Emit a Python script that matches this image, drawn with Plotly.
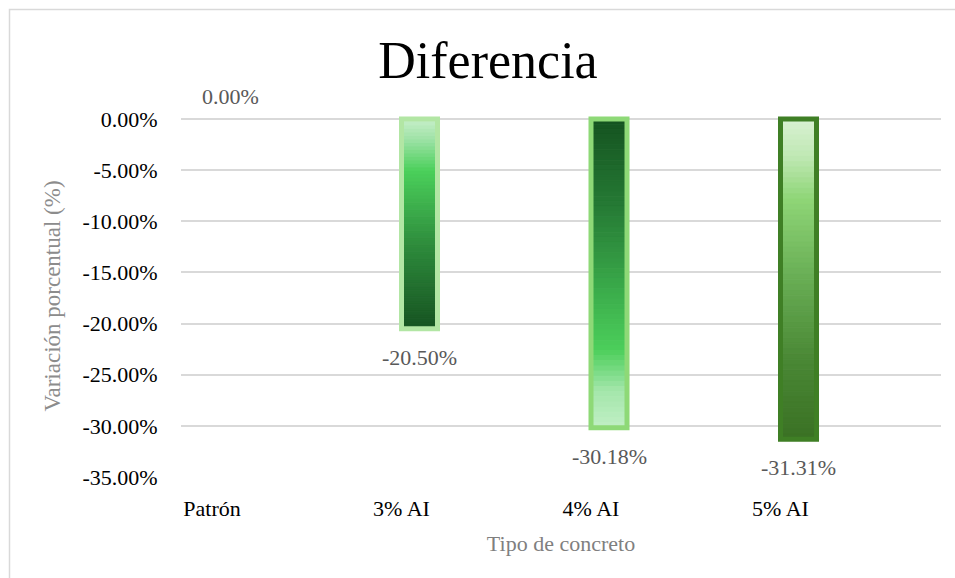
import plotly.graph_objects as go
from plotly.colors import sample_colorscale

# ---- data -------------------------------------------------------------
categories = ["Patrón", "3% AI", "4% AI", "5% AI"]
variation = [0.00, -20.50, -30.18, -31.31]          # percent change
y_ticks = [0, -5, -10, -15, -20, -25, -30, -35]

# ---- styling per bar ----------------------------------------------------
border_colors = [None, "#b2e6a4", "#8ed977", "#3f7f25"]
# colourscales run from the bar end (0) up to the baseline (1)
fill_scales = [
    None,
    [[0.0, "#165321"], [0.4, "#2e8c3c"], [0.75, "#4bd05b"],
     [0.9, "#9ee2a6"], [1.0, "#c9efcb"]],
    [[0.0, "#c0efc5"], [0.12, "#a3e6aa"], [0.25, "#4ccf5b"],
     [0.45, "#3aaa4a"], [0.7, "#277d36"], [1.0, "#145220"]],
    [[0.0, "#3a7124"], [0.25, "#4a8835"], [0.5, "#68ad54"],
     [0.75, "#8fd677"], [0.88, "#bfe8b3"], [1.0, "#d9f1d3"]],
]

FONT = "Liberation Serif"
BAR_WIDTH = 0.19           # in category units
N_STEPS = 60               # colour steps used to shade each bar
W, H = 955, 578
M_L, M_R, M_T, M_B = 181, 14, 115, 101
PX_PER_UNIT = 358 / 35     # vertical pixels per percentage point
Y_TOP = (119 - M_T) / PX_PER_UNIT

fig = go.Figure()

for i, (cat, v, edge, scale) in enumerate(
        zip(categories, variation, border_colors, fill_scales)):
    if v != 0:
        # shaded body: the bar split into equal slices, each coloured
        # from the bar's vertical colourscale; a same-colour hairline
        # closes the seams between neighbouring slices
        fracs = [1 - (k + 0.5) / N_STEPS for k in range(N_STEPS)]
        shades = sample_colorscale(scale, fracs)
        fig.add_trace(go.Bar(
            x=[i] * N_STEPS,
            y=[v / N_STEPS] * N_STEPS,
            base=[v * k / N_STEPS for k in range(N_STEPS)],
            offset=0, width=BAR_WIDTH,
            marker=dict(color=shades, line=dict(color=shades, width=1)),
            hoverinfo="skip", showlegend=False,
        ))
        # outline of the whole bar
        fig.add_trace(go.Bar(
            x=[i], y=[v], offset=0, width=BAR_WIDTH,
            marker=dict(color="rgba(0,0,0,0)",
                        line=dict(color=edge, width=5)),
            name=cat,
            hovertemplate=f"{cat}: {v:.2f}%<extra></extra>",
            showlegend=False,
        ))
    fig.add_annotation(
        x=i + BAR_WIDTH / 2, y=v,
        text=f"{v:.2f}%",
        showarrow=False,
        xanchor="center",
        yanchor="top" if v < 0 else "bottom",
        yshift=-14 if v < 0 else 8,
        font=dict(family=FONT, size=22, color="#595959"),
    )

# outer chart frame
def px_to_paper_x(px):
    return (px - M_L) / (W - M_L - M_R)

def px_to_paper_y(py):
    return (H - M_B - py) / (H - M_T - M_B)

fig.add_shape(
    type="rect", xref="paper", yref="paper",
    x0=px_to_paper_x(9.5), x1=px_to_paper_x(W + 10),
    y0=px_to_paper_y(H + 10), y1=px_to_paper_y(9.5),
    line=dict(color="#d9d9d9", width=1.5),
    fillcolor="rgba(0,0,0,0)", layer="below",
)

fig.update_layout(
    width=W, height=H,
    margin=dict(l=M_L, r=M_R, t=M_T, b=M_B),
    paper_bgcolor="white", plot_bgcolor="white",
    barmode="overlay",
    title=dict(
        text="Diferencia",
        x=488 / W, xanchor="center",
        y=1 - 60 / H, yanchor="middle",
        font=dict(family=FONT, size=52, color="#000000"),
    ),
    xaxis=dict(
        range=[-31 / 189.5, 729 / 189.5],
        tickmode="array",
        tickvals=list(range(len(categories))),
        ticktext=categories,
        showgrid=False, zeroline=False, showline=False,
        ticks="outside", ticklen=12, tickcolor="rgba(0,0,0,0)",
        tickfont=dict(family=FONT, size=22, color="#000000"),
        title=dict(text="Tipo de concreto",
                   font=dict(family=FONT, size=22, color="#7f7f7f")),
    ),
    yaxis=dict(
        range=[-35, Y_TOP],
        tickmode="array",
        tickvals=y_ticks,
        ticktext=[f"{t:.2f}%" for t in y_ticks],
        showgrid=True, gridcolor="#d9d9d9", gridwidth=1.5,
        zeroline=False, showline=False,
        ticks="outside", ticklen=18, tickcolor="rgba(0,0,0,0)",
        tickfont=dict(family=FONT, size=22, color="#000000"),
        title=dict(text="Variación porcentual (%)",
                   font=dict(family=FONT, size=23, color="#8c8c8c")),
    ),
)

fig.write_html("out.html")
